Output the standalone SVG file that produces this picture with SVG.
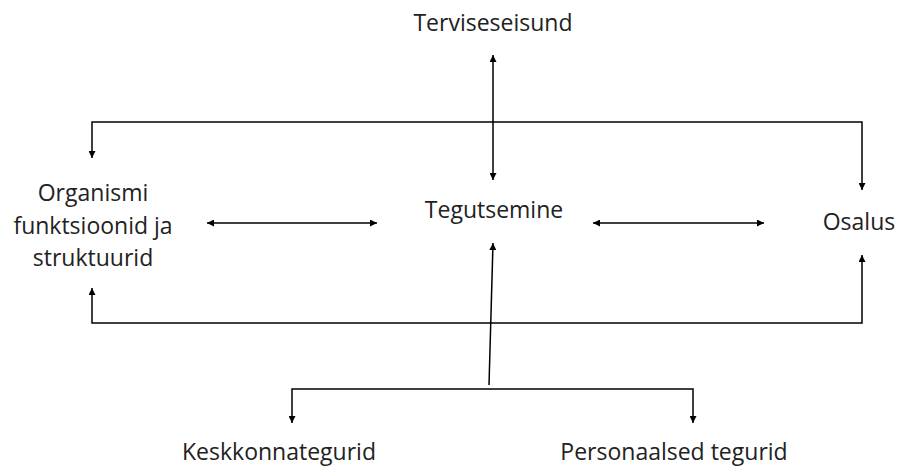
<svg xmlns="http://www.w3.org/2000/svg" width="902" height="470" viewBox="0 0 902 470">
<defs>
<marker id="ah" viewBox="0 0 10 10" refX="10" refY="5" markerWidth="7" markerHeight="7" markerUnits="userSpaceOnUse" orient="auto-start-reverse">
<path d="M0,0 L10,5 L0,10 z" fill="#000"/>
</marker>
<style>
.t{font-family:"Open Sans","Liberation Sans",sans-serif;font-size:23px;fill:#222;text-anchor:middle}
.c{fill:none;stroke:#000;stroke-width:1.5}
</style>
</defs>
<rect width="902" height="470" fill="#fff"/>
<g id="connectors">
<path class="c" d="M493,55 L493,180" marker-start="url(#ah)" marker-end="url(#ah)"/>
<path class="c" d="M92,158 L92,122 L862,122 L862,190" marker-start="url(#ah)" marker-end="url(#ah)"/>
<path class="c" d="M92,288 L92,323 L862,323 L862,255" marker-start="url(#ah)" marker-end="url(#ah)"/>
<path class="c" d="M207,223 L377,223" marker-start="url(#ah)" marker-end="url(#ah)"/>
<path class="c" d="M593,223 L764,223" marker-start="url(#ah)" marker-end="url(#ah)"/>
<path class="c" d="M489,385 L493,243" marker-end="url(#ah)"/>
<path class="c" d="M292,423 L292,389 L693,389 L693,423" marker-start="url(#ah)" marker-end="url(#ah)"/>
</g>
<g id="terviseseisund"><text class="t" x="493" y="31">Terviseseisund</text></g>
<g id="tegutsemine"><text class="t" x="494" y="218">Tegutsemine</text></g>
<g id="organismi"><text class="t" x="93" y="201">Organismi</text><text class="t" x="93" y="234">funktsioonid ja</text><text class="t" x="93" y="266">struktuurid</text></g>
<g id="osalus"><text class="t" x="859" y="230">Osalus</text></g>
<g id="keskkonnategurid"><text class="t" x="279" y="460">Keskkonnategurid</text></g>
<g id="personaalsed"><text class="t" x="674" y="460">Personaalsed tegurid</text></g>
</svg>
